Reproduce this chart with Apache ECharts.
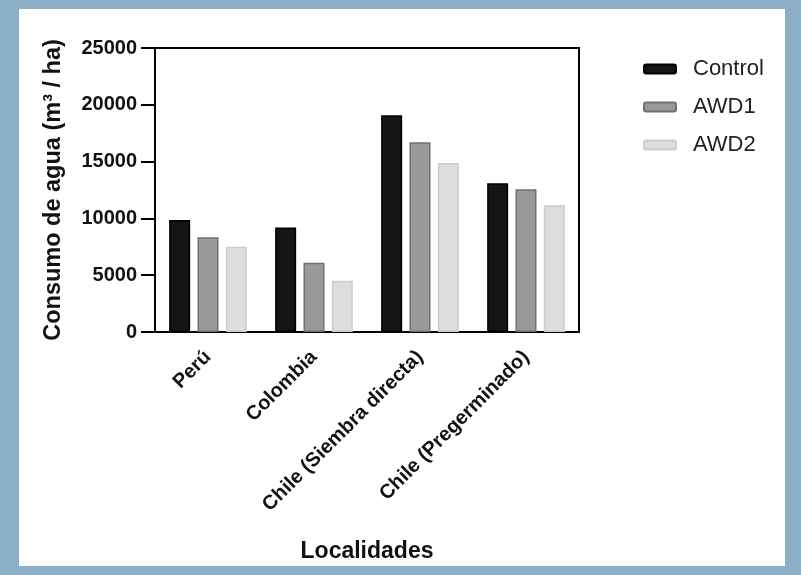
<!DOCTYPE html>
<html>
<head>
<meta charset="utf-8">
<script src="https://cdn.jsdelivr.net/npm/echarts@6/dist/echarts.min.js"></script>
<style>
html,body{margin:0;padding:0;background:#8aafc6;}
#c{width:801px;height:575px;}
</style>
</head>
<body>
<div id="c"></div>
<script>
const categories = ['Perú', 'Colombia', 'Chile (Siembra directa)', 'Chile (Pregerminado)'];
const seriesNames = ['Control', 'AWD1', 'AWD2'];
const controlValues = [9850, 9200, 19070, 13090];
const awd1Values = [8340, 6100, 16700, 12560];
const awd2Values = [7510, 4520, 14880, 11150];
const yTicks = [0, 5000, 10000, 15000, 20000, 25000];

const fills = ['#151515', '#9a9a9a', '#dddddd'];
const borders = ['#000000', '#707070', '#cdcdcd'];
const valueSets = [controlValues, awd1Values, awd2Values];
const FONT = '"Liberation Sans", Arial, Helvetica, sans-serif';

const chart = echarts.init(document.getElementById('c'), null, {renderer: 'canvas'});
chart.setOption({
  backgroundColor: '#8aafc6',
  animation: false,
  graphic: [{
    type: 'rect', z: -10, silent: true,
    shape: {x: 19, y: 9, width: 766, height: 557},
    style: {fill: '#ffffff'}
  }],
  textStyle: {fontFamily: FONT},
  grid: {
    left: 155, top: 48, right: 222, bottom: 243,
    show: true, borderColor: '#000', borderWidth: 2, backgroundColor: 'transparent'
  },
  legend: {
    orient: 'vertical', left: 643, top: 58, padding: 0,
    itemWidth: 32, itemHeight: 9, itemGap: 16,
    textStyle: {fontFamily: FONT, fontSize: 22, lineHeight: 22, color: '#222', padding: [0, 0, 0, 12]},
    data: seriesNames
  },
  xAxis: {
    type: 'category',
    data: categories,
    name: 'Localidades',
    nameLocation: 'middle',
    nameGap: 208,
    nameTextStyle: {fontFamily: FONT, fontSize: 23, fontWeight: 'bold', color: '#111'},
    axisLine: {lineStyle: {color: '#000', width: 2}},
    axisTick: {alignWithLabel: true, length: 11, lineStyle: {color: '#000', width: 2}},
    axisLabel: {rotate: 45, fontFamily: FONT, fontSize: 20, fontWeight: 'bold', color: '#111', margin: 22, interval: 0},
    splitLine: {show: false}
  },
  yAxis: {
    type: 'value',
    min: 0, max: 25000, interval: 5000,
    name: 'Consumo de agua (m³ / ha)',
    nameLocation: 'middle',
    nameGap: 89,
    nameTextStyle: {fontFamily: FONT, fontSize: 23.5, fontWeight: 'bold', color: '#111'},
    axisLine: {show: true, lineStyle: {color: '#000', width: 2}},
    axisTick: {show: true, length: 14, lineStyle: {color: '#000', width: 2}},
    axisLabel: {
      fontFamily: FONT, fontSize: 20, fontWeight: 'bold', color: '#111', margin: 18,
      formatter: function (v) { return yTicks.indexOf(v) >= 0 ? String(v) : ''; }
    },
    splitLine: {show: false}
  },
  series: seriesNames.map(function (n, i) {
    return {
      name: n, type: 'bar',
      data: valueSets[i],
      barWidth: 21,
      barGap: '35%',
      itemStyle: {color: fills[i], borderColor: borders[i], borderWidth: 1.5}
    };
  })
});
</script>
</body>
</html>
